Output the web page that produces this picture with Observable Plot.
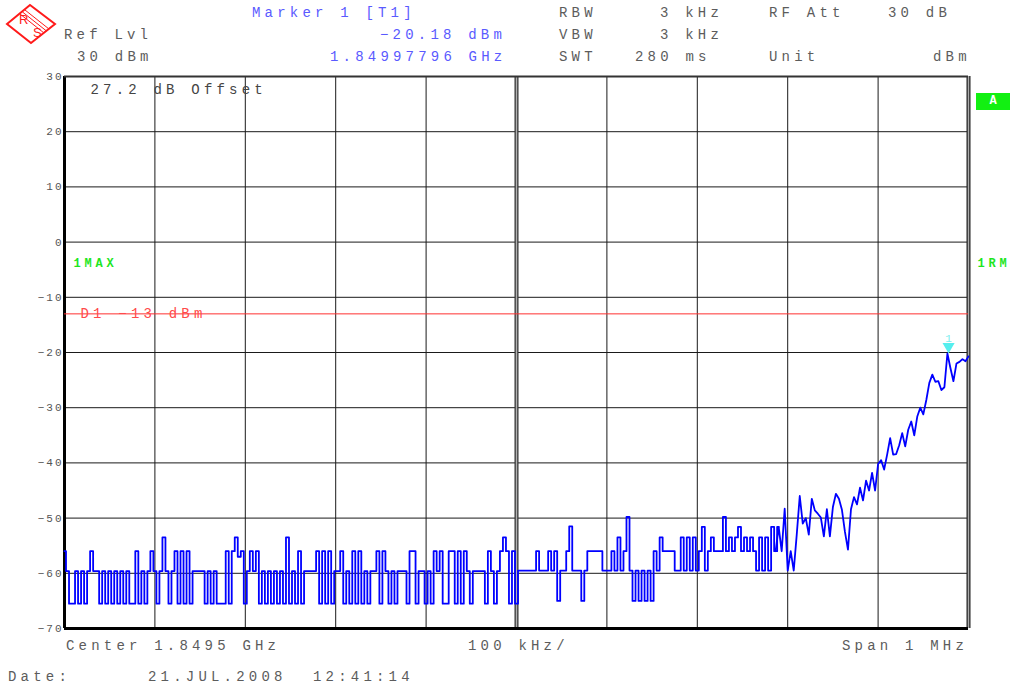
<!DOCTYPE html>
<html>
<head>
<meta charset="utf-8">
<script src="https://cdn.jsdelivr.net/npm/d3@7"></script>
<script src="https://cdn.jsdelivr.net/npm/@observablehq/plot@0.6"></script>
<style>
  body { margin: 0; background: #fff; }
  #wrap { position: relative; width: 1013px; height: 688px; overflow: hidden; font-family: "Liberation Mono", monospace; background: #fff; }
  #wrap svg.plot { position: absolute; left: 0; top: 0; }
  .t { position: absolute; font-size: 14px; letter-spacing: 4.2px; line-height: 16px; white-space: pre; color: #5c5c5c; }
  .b { color: #5a5aff; }
  #abox { position: absolute; left: 976px; top: 93px; width: 34px; height: 17px; background: #12f012; color: #fff; font: bold 12px "Liberation Mono", monospace; text-align: center; line-height: 17px; }
</style>
</head>
<body>
<div id="wrap">
  <svg style="position:absolute;left:0;top:0" width="62" height="48">
    <polygon points="7,24 30,5 55,24 31,43" fill="none" stroke="#ff1a1a" stroke-width="2"/>
    <line x1="20" y1="14" x2="44" y2="33" stroke="#ff1a1a" stroke-width="1"/>
    <line x1="22.5" y1="12" x2="46.5" y2="31" stroke="#ff1a1a" stroke-width="1"/>
    <line x1="25" y1="10" x2="49" y2="29" stroke="#ff1a1a" stroke-width="1"/>
    <text x="19" y="24" font-family="Liberation Sans, sans-serif" font-size="13" fill="#ff1a1a">R</text>
    <text x="33" y="37" font-family="Liberation Sans, sans-serif" font-size="13" fill="#ff1a1a">S</text>
  </svg>
  <div class="t b" style="left:252px;top:5px">Marker 1 [T1]</div>
  <div class="t" style="left:559px;top:5px">RBW</div>
  <div class="t" style="left:660px;top:5px">3 kHz</div>
  <div class="t" style="left:769px;top:5px">RF Att</div>
  <div class="t" style="left:888px;top:5px">30 dB</div>

  <div class="t" style="left:64px;top:27px">Ref Lvl</div>
  <div class="t b" style="left:380px;top:27px">−20.18 dBm</div>
  <div class="t" style="left:559px;top:27px">VBW</div>
  <div class="t" style="left:660px;top:27px">3 kHz</div>

  <div class="t" style="left:77px;top:49px">30 dBm</div>
  <div class="t b" style="left:330px;top:49px">1.84997796 GHz</div>
  <div class="t" style="left:559px;top:49px">SWT</div>
  <div class="t" style="left:635px;top:49px">280 ms</div>
  <div class="t" style="left:769px;top:49px">Unit</div>
  <div class="t" style="left:933px;top:49px">dBm</div>

  <div class="t" style="left:66px;top:638px">Center 1.8495 GHz</div>
  <div class="t" style="left:468px;top:638px">100 kHz/</div>
  <div class="t" style="left:842px;top:638px">Span 1 MHz</div>
  <div class="t" style="left:8px;top:669px">Date:</div>
  <div class="t" style="left:148px;top:669px">21.JUL.2008</div>
  <div class="t" style="left:313px;top:669px">12:41:14</div>
  <div id="abox">A</div>
</div>
<script>
// ---- data ----
const spanKHz = 1000;                 // span 1 MHz, start 1.849 GHz
const yTicks = [30, 20, 10, 0, -10, -20, -30, -40, -50, -60, -70];
const xGrid = [0, 100, 200, 300, 400, 500, 600, 700, 800, 900, 1000];
const limitDb = -13;
const limitLabel = "D1 −13 dBm";
const offsetLabel = "27.2 dB Offset";
const traceLabels = ["1MAX", "1RM"];
const markerKHz = 977.96;
const markerDb = -20.18;
const noiseEndKHz = 790;              // quantised noise floor region ends here, skirt rises after
const traceDb = [
  -56, -59.6, -65.5, -65.5, -59.6, -65.5, -59.6, -65.5, -59.6, -56,
  -59.6, -59.6, -65.5, -59.6, -65.5, -59.6, -65.5, -59.6, -65.5, -59.6,
  -65.5, -59.6, -65.5, -65.5, -56, -65.5, -59.6, -65.5, -59.6, -56,
  -59.6, -65.5, -59.6, -53.5, -59.6, -65.5, -59.6, -56, -65.5, -56,
  -65.5, -56, -65.5, -59.6, -59.6, -59.6, -59.6, -65.5, -59.6, -65.5,
  -59.6, -65.5, -65.5,
  -65.5, -56, -65.5, -56, -53.5, -57, -56, -65.5, -59.6, -56,
  -59.6, -56, -65.5, -59.6, -65.5, -59.6, -65.5, -59.6, -65.5, -59.6,
  -65.5, -53.5, -65.5, -59.6, -65.5, -56, -65.5, -59.6, -59.6, -59.6,
  -59.6, -56, -65.5, -56, -65.5, -56, -65.5, -59.6, -59.6, -56,
  -65.5, -59.6, -65.5, -56, -65.5, -56, -65.5, -59.6,
  -65.5, -59.6, -59.6, -56, -65.5, -56, -59.6, -65.5, -59.6, -65.5,
  -59.6, -59.6, -59.6, -65.5, -56, -56, -65.5, -59.6, -59.6, -65.5,
  -59.6, -65.5, -56, -59.6, -56, -65.5, -65.5, -56, -56, -65.5,
  -56, -65.5, -56, -59.6, -65.5, -59.6, -59.6, -59.6, -59.6, -65.5,
  -56, -59.6, -65.5, -59.6, -56, -53.5, -56, -65.5, -56, -65.5,
  -59.5, -59.5, -59.5, -59.5, -59.5, -59.5, -56, -59.5, -59.5, -59.5,
  -56, -59.5, -56, -65, -59.5, -59.5, -56, -51.5, -59.5, -59.5,
  -59.5, -65, -59.5, -56, -56, -56, -56, -56, -59.5, -59.5,
  -59.5, -56, -59.5, -53.5, -59.5, -56, -49.8, -59.5, -65, -59.5,
  -65, -59.5, -65, -59.5, -65, -56, -59.5, -53.5, -56, -56,
  -56,
  -56, -59.5, -59.5, -53.5, -59.5, -53.5, -59.5, -53.5, -59.5, -56,
  -51.6, -59.5, -56, -53.5, -56, -56, -56, -49.8, -56, -53.5,
  -56, -53.5, -51.6, -56, -53.5, -56, -53.5, -56, -59.5, -53.5,
  -59.5, -53.5, -59.5, -51.6, -56, -51.6,
  -56, -48.3, -59.5, -56, -59.5, -53, -46, -51, -50, -53,
  -46.5, -48.6, -49.2, -49.9, -53.3, -48.4, -53.3, -48, -45.6, -46.5,
  -48.5, -52.5, -55.7, -48.4, -46.2, -47.5, -44.5, -46.8, -43.2, -45,
  -41.8, -45, -40.2, -39.5, -41.2, -38.5, -35.5, -38.5, -38.4, -36.8,
  -34.6, -37, -34, -32.5, -35, -31.6, -30, -31.2, -28.6, -25.5,
  -24, -25.3, -25.2, -26.8, -26.3, -20.18, -22.8, -25.2, -22, -21.7,
  -21.2, -21.6, -20.7
];
// ---- build ----
const trace = traceDb.map((v, i) => ({f: i * spanKHz / (traceDb.length - 1), db: v}));
const marker = [{f: markerKHz, db: markerDb}];

const chart = Plot.plot({
  width: 1013, height: 688,
  marginTop: 76, marginBottom: 60, marginLeft: 64, marginRight: 45,
  x: {domain: [0, spanKHz], axis: null},
  y: {domain: [-70, 30], axis: null},
  style: {fontFamily: "Liberation Mono, monospace", fontSize: "11px", color: "#555", background: "transparent"},
  marks: [
    Plot.ruleY(yTicks, {stroke: "#1a1a1a", strokeWidth: 1}),
    Plot.ruleX(xGrid, {stroke: "#1a1a1a", strokeWidth: 1}),
    Plot.ruleX([500], {stroke: "#333", strokeWidth: 4}),
    Plot.ruleX([500], {stroke: "#b0b0b0", strokeWidth: 1.5}),
    Plot.ruleX([0], {stroke: "#000", strokeWidth: 3}),
    Plot.ruleX([spanKHz], {stroke: "#222", strokeWidth: 4}),
    Plot.ruleX([spanKHz], {stroke: "#aaa", strokeWidth: 1.5}),
    Plot.ruleY([-70], {stroke: "#000", strokeWidth: 3}),
    Plot.ruleY([30], {stroke: "#333", strokeWidth: 2}),
    Plot.axisY(yTicks, {label: null, tickSize: 0, tickPadding: 1, fill: "#555", fontSize: 11}),
    Plot.ruleY([limitDb], {stroke: "#ff3030", strokeWidth: 1}),
    Plot.text([limitLabel], {y: () => limitDb, text: d => d, frameAnchor: "left", dx: 16, textAnchor: "start",
      fill: "#ff4a4a", fontSize: 14}),
    Plot.text([offsetLabel], {text: d => d, frameAnchor: "top-left", dx: 26, dy: 13, lineAnchor: "middle",
      textAnchor: "start", fill: "#444", fontSize: 14}),
    Plot.text([traceLabels[0]], {text: d => d, frameAnchor: "top-left", dx: 9, dy: 187, lineAnchor: "middle",
      textAnchor: "start", fill: "#1ee61e", fontSize: 12, fontWeight: "bold"}),
    Plot.text([traceLabels[1]], {text: d => d, frameAnchor: "top-right", dx: 9, dy: 187, lineAnchor: "middle",
      textAnchor: "start", fill: "#1ee61e", fontSize: 12, fontWeight: "bold"}),
    // quantised noise floor: vertical transitions, as the 501-point sweep draws it
    Plot.line(trace, {filter: d => d.f <= noiseEndKHz, x: "f", y: "db", stroke: "#0000ff", strokeWidth: 1.8, curve: "step"}),
    // rising skirt: straight point-to-point segments
    Plot.line(trace, {filter: d => d.f >= noiseEndKHz - 4, x: "f", y: "db", stroke: "#0000ff", strokeWidth: 1.8}),
    Plot.dot(marker, {x: "f", y: "db", symbol: "triangle", rotate: 180, r: 4.5, fill: "#55eeee", dy: -7}),
    Plot.text(marker, {x: "f", y: "db", text: () => "1", dy: -15, fill: "#77eeee", fontSize: 11})
  ]
});
chart.classList.add("plot");
document.getElementById("wrap").prepend(chart);

// letter spacing for the instrument's wide mono font, and a white box behind the limit label
d3.select(chart).selectAll("text").each(function () {
  const t = this.textContent;
  if (t === offsetLabel || t === limitLabel) this.style.letterSpacing = "4.2px";
  else if (traceLabels.includes(t)) this.style.letterSpacing = "3.8px";
  else if (this.closest('g[aria-label="y-axis tick label"]')) this.style.letterSpacing = "2px";
  if (t === limitLabel) {
    const bb = this.getBBox();
    const r = document.createElementNS("http://www.w3.org/2000/svg", "rect");
    r.setAttribute("x", bb.x - 1); r.setAttribute("y", bb.y + 2);
    r.setAttribute("width", bb.width - 2); r.setAttribute("height", bb.height - 4);
    r.setAttribute("fill", "white");
    this.parentNode.insertBefore(r, this);
  }
});
</script>
</body>
</html>
